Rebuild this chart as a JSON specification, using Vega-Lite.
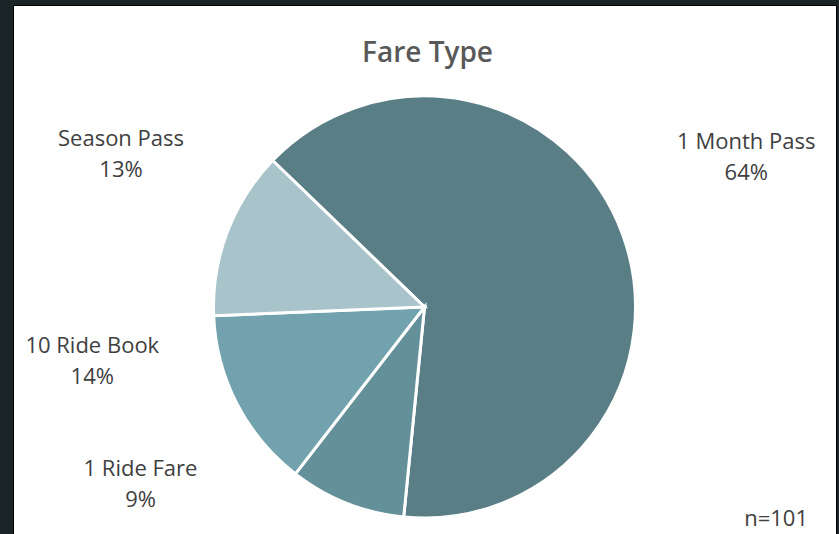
{
  "$schema": "https://vega.github.io/schema/vega-lite/v6.json",
  "width": 823,
  "height": 604,
  "autosize": {"type": "none"},
  "padding": {"left": 13, "top": 5, "right": 3, "bottom": -75},
  "background": "#1b2528",
  "view": {"fill": "#ffffff", "stroke": "#000000", "strokeWidth": 1},
  "title": {
    "text": "Fare Type",
    "font": "Open Sans",
    "fontSize": 28,
    "fontWeight": 600,
    "color": "#595959",
    "anchor": "middle",
    "frame": "group",
    "baseline": "alphabetic",
    "offset": -33,
    "dy": 52,
    "dx": 3
  },
  "data": {
    "values": [
      {"category": "1 Month Pass", "count": 65, "label": "1 Month Pass\n64%"},
      {"category": "1 Ride Fare", "count": 9, "label": "1 Ride Fare\n9%"},
      {"category": "10 Ride Book", "count": 14, "label": "10 Ride Book\n14%"},
      {"category": "Season Pass", "count": 13, "label": "Season Pass\n13%"}
    ]
  },
  "layer": [
    {
      "mark": {"type": "arc", "outerRadius": 211, "stroke": "#ffffff", "strokeWidth": 3},
      "encoding": {
        "theta": {"field": "count", "type": "quantitative", "stack": true, "scale": {"range": [5.48, 11.763]}},
        "order": {"field": "category", "sort": "ascending"},
        "color": {
          "field": "category",
          "type": "nominal",
          "scale": {
            "domain": ["1 Month Pass", "1 Ride Fare", "10 Ride Book", "Season Pass"],
            "range": ["#5a7e86", "#64909a", "#72a2ae", "#a9c3ca"]
          },
          "legend": null
        }
      }
    },
    {
      "mark": {
        "type": "text",
        "radius": 330,
        "font": "Open Sans",
        "fontSize": 22,
        "color": "#404040",
        "lineBreak": "\n",
        "lineHeight": 31,
        "align": "center",
        "baseline": "middle",
        "dx": {"expr": "datum.category == '1 Month Pass' ? 12 : datum.category == '1 Ride Fare' ? -162 : datum.category == '10 Ride Book' ? -39 : 5"},
        "dy": {"expr": "datum.category == '1 Month Pass' ? -51 : datum.category == '1 Ride Fare' ? -145 : datum.category == '10 Ride Book' ? -112 : -51"}
      },
      "encoding": {
        "theta": {"field": "count", "type": "quantitative", "stack": true},
        "order": {"field": "category", "sort": "ascending"},
        "text": {"field": "label", "type": "nominal"}
      }
    },
    {
      "data": {"values": [{"note": "n=101"}]},
      "mark": {
        "type": "text",
        "font": "Open Sans",
        "fontSize": 22,
        "color": "#404040",
        "align": "right",
        "baseline": "alphabetic",
        "x": 795,
        "y": 521
      },
      "encoding": {
        "text": {"field": "note", "type": "nominal"}
      }
    }
  ]
}
